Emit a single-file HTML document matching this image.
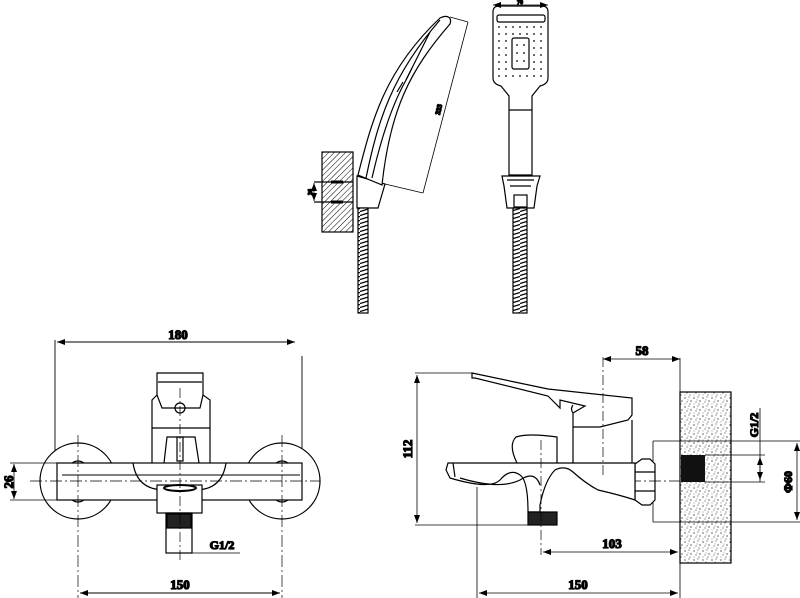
<!DOCTYPE html>
<html><head><meta charset="utf-8"><style>
html,body{margin:0;padding:0;background:#fff;}
svg{display:block;}
text{font-family:"Liberation Serif",serif;font-weight:bold;fill:#000;}
</style></head><body>
<svg width="800" height="598" viewBox="0 0 800 598" xmlns="http://www.w3.org/2000/svg">
<defs>
<pattern id="hatch" width="4" height="4" patternUnits="userSpaceOnUse" patternTransform="rotate(45)">
<line x1="0" y1="0" x2="0" y2="4" stroke="#000" stroke-width="1"/></pattern>
<pattern id="stip" width="9" height="9" patternUnits="userSpaceOnUse">
<rect width="9" height="9" fill="#fff"/>
<circle cx="1" cy="2" r="0.6" fill="#000"/><circle cx="5" cy="1" r="0.5" fill="#000"/><circle cx="7" cy="5" r="0.6" fill="#000"/><circle cx="3" cy="6" r="0.5" fill="#000"/><circle cx="6" cy="8" r="0.5" fill="#000"/><circle cx="1" cy="8" r="0.4" fill="#000"/><circle cx="4" cy="4" r="0.4" fill="#000"/>
</pattern>
<pattern id="hose" width="10" height="4" patternUnits="userSpaceOnUse">
<rect width="10" height="4" fill="#fff"/><line x1="0" y1="3.5" x2="10" y2="0.5" stroke="#000" stroke-width="1.3"/></pattern>
<marker id="ar" markerWidth="8" markerHeight="6" refX="8" refY="3" orient="auto-start-reverse" markerUnits="userSpaceOnUse"><path d="M0,0 L8,3 L0,6 z" fill="#000"/></marker>
</defs>
<g fill="none" stroke="#000" stroke-width="1.2">

<!-- ===== Shower side view ===== -->
<rect x="322" y="152" width="31" height="80" fill="url(#hatch)" stroke="#000"/>
<line x1="314" y1="182" x2="353" y2="182"/><line x1="314" y1="202" x2="353" y2="202"/>
<line x1="314" y1="183" x2="314" y2="201" marker-start="url(#ar)" marker-end="url(#ar)" stroke-width="0.8"/>
<path d="M331,182 h12 M331,202 h12" stroke-width="3"/>
<path d="M357,176 L385,184 L378,208 L357,208 Z" fill="#fff"/>
<path d="M358,175 C372,120 385,70 440,18 C448,14 452,18 450,24 C410,70 390,110 382,185 Z" fill="#fff"/>
<path d="M366,178 C378,120 392,75 440,20 M372,178 C383,130 395,100 405,82 L430,32"/>
<path d="M397,92 L403,82 M406,80 L412,68"/>
<line x1="450" y1="17" x2="468" y2="22" stroke-width="0.8"/>
<line x1="468" y1="22" x2="423" y2="193" stroke-width="0.8"/>
<line x1="385" y1="184" x2="423" y2="193" stroke-width="0.8"/>
<text x="0" y="0" font-size="7" transform="translate(441,110) rotate(-76)" text-anchor="middle">333</text>
<text x="0" y="0" font-size="6" transform="translate(312,192) rotate(-90)" text-anchor="middle">26</text>
<rect x="358" y="208" width="10" height="105" fill="url(#hose)"/>

<!-- ===== Shower front view ===== -->
<path d="M493,12 Q493,6 499,6 L542,6 Q548,6 548,12 L548,78 Q548,84 540,86 L532,96 L532,175 L509,175 L509,96 L501,86 Q493,84 493,78 Z" fill="#fff"/>
<rect x="497" y="15" width="48" height="7" rx="2"/>
<line x1="509" y1="110" x2="532" y2="110"/>
<rect x="512" y="38" width="17" height="31" rx="2"/>
<g fill="#000" stroke="none">
<circle cx="499" cy="27" r="0.9"/><circle cx="506" cy="27" r="0.9"/><circle cx="513" cy="27" r="0.9"/><circle cx="520" cy="27" r="0.9"/><circle cx="527" cy="27" r="0.9"/><circle cx="534" cy="27" r="0.9"/><circle cx="541" cy="27" r="0.9"/>
<circle cx="499" cy="34" r="0.9"/><circle cx="506" cy="34" r="0.9"/><circle cx="513" cy="34" r="0.9"/><circle cx="520" cy="34" r="0.9"/><circle cx="527" cy="34" r="0.9"/><circle cx="534" cy="34" r="0.9"/><circle cx="541" cy="34" r="0.9"/>
<circle cx="499" cy="41" r="0.9"/><circle cx="506" cy="41" r="0.9"/><circle cx="534" cy="41" r="0.9"/><circle cx="541" cy="41" r="0.9"/>
<circle cx="499" cy="48" r="0.9"/><circle cx="506" cy="48" r="0.9"/><circle cx="534" cy="48" r="0.9"/><circle cx="541" cy="48" r="0.9"/>
<circle cx="499" cy="55" r="0.9"/><circle cx="506" cy="55" r="0.9"/><circle cx="534" cy="55" r="0.9"/><circle cx="541" cy="55" r="0.9"/>
<circle cx="499" cy="62" r="0.9"/><circle cx="506" cy="62" r="0.9"/><circle cx="534" cy="62" r="0.9"/><circle cx="541" cy="62" r="0.9"/>
<circle cx="499" cy="69" r="0.9"/><circle cx="506" cy="69" r="0.9"/><circle cx="534" cy="69" r="0.9"/><circle cx="541" cy="69" r="0.9"/>
<circle cx="499" cy="76" r="0.9"/><circle cx="506" cy="76" r="0.9"/><circle cx="513" cy="76" r="0.9"/><circle cx="520" cy="76" r="0.9"/><circle cx="527" cy="76" r="0.9"/><circle cx="534" cy="76" r="0.9"/><circle cx="541" cy="76" r="0.9"/>
<circle cx="517" cy="45" r="0.9"/><circle cx="524" cy="45" r="0.9"/><circle cx="517" cy="53" r="0.9"/><circle cx="524" cy="53" r="0.9"/><circle cx="517" cy="61" r="0.9"/><circle cx="524" cy="61" r="0.9"/>
</g>
<line x1="493" y1="5" x2="548" y2="5" marker-start="url(#ar)" marker-end="url(#ar)" stroke-width="0.7"/>
<text x="520" y="4" font-size="6" text-anchor="middle">70</text>
<path d="M502,176 L540,176 L537,186 L534,208 L507,208 L504,186 Z" fill="#fff"/>
<path d="M507,180 L534,180 M510,186 L531,186"/>
<rect x="514" y="195" width="13" height="12"/>
<rect x="513" y="208" width="14" height="105" fill="url(#hose)"/>

<!-- ===== Front view (bottom left) ===== -->
<line x1="57" y1="342" x2="295" y2="342" marker-start="url(#ar)" marker-end="url(#ar)" stroke-width="0.9"/>
<text x="178" y="339" font-size="13" text-anchor="middle">180</text>
<line x1="55" y1="340" x2="55" y2="500" stroke-width="0.9"/>
<line x1="302" y1="356" x2="302" y2="463" stroke-width="0.9"/>
<circle cx="78" cy="481" r="38" fill="#fff"/>
<circle cx="282" cy="481" r="38" fill="#fff"/>
<rect x="57" y="463" width="245" height="37" fill="#fff"/>
<path d="M62,475 L300,475" stroke-width="0.9"/>
<path d="M72,463 q6,-4 12,0 M72,500 q6,4 12,0 M276,463 q6,-4 12,0 M276,500 q6,4 12,0"/>
<path d="M133,463 Q137,490 165,490 L195,490 Q222,490 226,463"/>
<rect x="157" y="485" width="45" height="28" fill="#fff"/>
<ellipse cx="180" cy="488" rx="16" ry="3" stroke-width="2"/>
<rect x="166" y="513" width="26" height="40" fill="#fff"/>
<rect x="167" y="514" width="24" height="14" fill="#222"/>
<path d="M152,463 L152,428 L210,428 L210,463"/>
<path d="M164,463 L167,437 L195,437 L199,463"/>
<rect x="177" y="437" width="6" height="24"/>
<path d="M152,428 L152,400 L157,395 L157,373 L203,373 L203,395 L210,400 L210,428"/>
<path d="M158,382 L202,382 M157,395 L162,408 L200,408 L203,395"/>
<circle cx="180" cy="408" r="5"/>
<line x1="180" y1="388" x2="180" y2="560" stroke-dasharray="10,3,2,3" stroke-width="0.7"/>
<line x1="30" y1="481" x2="320" y2="481" stroke-dasharray="12,3,2,3" stroke-width="0.7"/>
<line x1="78" y1="435" x2="78" y2="598" stroke-dasharray="12,3,2,3" stroke-width="0.7"/>
<line x1="282" y1="435" x2="282" y2="598" stroke-dasharray="12,3,2,3" stroke-width="0.7"/>
<line x1="10" y1="463" x2="57" y2="463" stroke-width="0.8"/><line x1="10" y1="500" x2="57" y2="500" stroke-width="0.8"/>
<line x1="14" y1="464" x2="14" y2="499" marker-start="url(#ar)" marker-end="url(#ar)" stroke-width="0.8"/>
<text x="0" y="0" font-size="13" transform="translate(13,482) rotate(-90)" text-anchor="middle">26</text>
<line x1="166" y1="553" x2="240" y2="553" stroke-width="0.8"/>
<text x="222" y="549" font-size="12" text-anchor="middle">G1/2</text>
<line x1="80" y1="593" x2="280" y2="593" marker-start="url(#ar)" marker-end="url(#ar)" stroke-width="0.9"/>
<text x="180" y="589" font-size="13" text-anchor="middle">150</text>

<!-- ===== Side view (bottom right) ===== -->
<rect x="680" y="392" width="51" height="171" fill="url(#stip)" stroke="#000"/>
<rect x="681" y="455" width="24" height="27" fill="#111" stroke="none"/>
<line x1="705" y1="455" x2="765" y2="455" stroke-width="0.8"/>
<line x1="705" y1="482" x2="765" y2="482" stroke-width="0.8"/>
<line x1="760" y1="408" x2="760" y2="482" stroke-width="0.8"/>
<line x1="760" y1="457" x2="760" y2="480" marker-start="url(#ar)" marker-end="url(#ar)" stroke-width="0.8"/>
<text x="0" y="0" font-size="12" transform="translate(758,425) rotate(-90)" text-anchor="middle">G1/2</text>
<path d="M653,441 L800,441 M653,522 L800,522 M653,441 L653,522" stroke-width="0.8"/>
<line x1="797" y1="443" x2="797" y2="520" marker-start="url(#ar)" marker-end="url(#ar)" stroke-width="0.8"/>
<text x="0" y="0" font-size="12" transform="translate(792,482) rotate(-90)" text-anchor="middle">Φ60</text>
<path d="M635,464 L642,459 L650,459 L655,464 L655,500 L650,505 L642,505 L635,500 Z" fill="#fff"/>
<path d="M635,472 H655 M635,491 H655"/>
<line x1="609" y1="481" x2="680" y2="481" stroke-dasharray="12,3,2,3" stroke-width="0.7"/>
<path d="M472,373 L548,389 L632,398 L632,415 L628,420 L600,427 L573,427 L573,413 L585,406 L560,400 L560,408 L548,396 L475,378 L472,378 Z" fill="#fff"/>
<path d="M573,427 L573,463 M632,420 L632,470"/>
<path d="M573,405 q-3,4 0,8"/>
<path d="M517,463 Q508,445 516,437 Q528,433 557,437 L557,463" fill="#fff"/>
<path d="M448,463 L635,463 L635,500 Q620,495 598,490 Q585,483 573,472 Q565,465 555,470 Q545,480 540,505 L540,512 L528,512 Q528,480 520,475 Q510,468 500,480 Q490,490 450,478 L446,470 Z" fill="#fff"/>
<path d="M453,463 L455,477 M460,478 Q500,490 520,480 Q535,470 540,485"/>
<rect x="528" y="512" width="29" height="13" fill="#222"/>
<line x1="541" y1="440" x2="541" y2="555" stroke-dasharray="10,3,2,3" stroke-width="0.7"/>
<line x1="603" y1="357" x2="603" y2="478" stroke-dasharray="10,3,2,3" stroke-width="0.7"/>
<line x1="603" y1="359" x2="680" y2="359" marker-start="url(#ar)" marker-end="url(#ar)" stroke-width="0.8"/>
<text x="642" y="355" font-size="13" text-anchor="middle">58</text>
<line x1="680" y1="358" x2="680" y2="598" stroke-width="0.8"/>
<line x1="415" y1="373" x2="472" y2="373" stroke-width="0.8"/>
<line x1="415" y1="525" x2="540" y2="525" stroke-width="0.8"/>
<line x1="417" y1="375" x2="417" y2="523" marker-start="url(#ar)" marker-end="url(#ar)" stroke-width="0.8"/>
<text x="0" y="0" font-size="13" transform="translate(412,449) rotate(-90)" text-anchor="middle">112</text>
<line x1="543" y1="552" x2="678" y2="552" marker-start="url(#ar)" marker-end="url(#ar)" stroke-width="0.8"/>
<text x="612" y="548" font-size="13" text-anchor="middle">103</text>
<line x1="477" y1="487" x2="477" y2="598" stroke-width="0.8"/>
<line x1="479" y1="593" x2="678" y2="593" marker-start="url(#ar)" marker-end="url(#ar)" stroke-width="0.8"/>
<text x="578" y="589" font-size="13" text-anchor="middle">150</text>
</g>
</svg>
</body></html>
